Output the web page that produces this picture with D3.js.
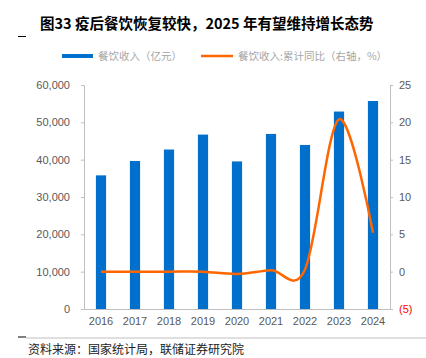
<!DOCTYPE html>
<html><head><meta charset="utf-8">
<script src="https://cdn.jsdelivr.net/npm/d3@7"></script>
<style>body{margin:0;background:#fff}svg{display:block}</style>
</head><body>
<svg id="c" width="426" height="358"></svg>
<script>
const years = ["2016","2017","2018","2019","2020","2021","2022","2023","2024"];
const revenue = [35799, 39644, 42716, 46721, 39527, 46895, 43941, 52890, 55718];
const yoy = [0.0, 0.0, 0.0, 0.0, -0.3, 0.2, 0.3, 20.4, 5.2];
const leftTicks = [0, 10000, 20000, 30000, 40000, 50000, 60000];
const rightTicks = [-5, 0, 5, 10, 15, 20, 25];

const svg = d3.select("#c");
const L = 84, R = 390, T = 85, B = 309;
const x = d3.scaleBand().domain(years).range([L, R]).paddingInner(0.7).paddingOuter(0.35);
const yL = d3.scaleLinear().domain([0, 60000]).range([B, T]);
const yR = d3.scaleLinear().domain([-5, 25]).range([B, T]);
const fmtL = d3.format(",");
const fmtR = v => v < 0 ? "(" + Math.abs(v) + ")" : String(v);

// title
svg.append("text").attr("x", 40).attr("y", 29).attr("font-family", "'Noto Sans CJK SC', sans-serif")
  .attr("font-size", 14.5).attr("font-weight", "bold").attr("fill", "#000")
  .text("图33 疫后餐饮恢复较快，2025 年有望维持增长态势");
svg.append("line").attr("x1", 18).attr("x2", 26).attr("y1", 36.5).attr("y2", 36.5).attr("stroke", "#000").attr("stroke-width", 1);

// legend
const lg = svg.append("g").attr("font-family", "'Noto Sans CJK SC', sans-serif").attr("font-size", 10.5).attr("fill", "#a6a6a6");
lg.append("line").attr("x1", 62).attr("x2", 93).attr("y1", 56).attr("y2", 56).attr("stroke", "#0070CC").attr("stroke-width", 4);
lg.append("text").attr("x", 98).attr("y", 60).text("餐饮收入（亿元）");
lg.append("line").attr("x1", 201).attr("x2", 233).attr("y1", 56).attr("y2", 56).attr("stroke", "#FF6600").attr("stroke-width", 2.5);
lg.append("text").attr("x", 238).attr("y", 60).text("餐饮收入:累计同比（右轴，%）");

// bars
svg.append("g").selectAll("rect").data(years).join("rect")
  .attr("x", d => x(d)).attr("width", x.bandwidth())
  .attr("y", (d, i) => yL(revenue[i])).attr("height", (d, i) => B - yL(revenue[i]))
  .attr("fill", "#0070CC");

// axes
const axisStyle = g => {
  g.selectAll("path").attr("stroke", "#bfbfbf");
  g.selectAll("line").attr("stroke", "#bfbfbf");
  g.selectAll("text").attr("fill", "#595959").attr("font-family", "'Liberation Sans', Arial, sans-serif").attr("font-size", 11);
};
svg.append("g").attr("transform", `translate(${L},0)`)
  .call(d3.axisLeft(yL).tickValues(leftTicks).tickFormat(fmtL).tickSize(3).tickSizeOuter(3).tickPadding(11))
  .call(axisStyle);
const ra = svg.append("g").attr("transform", `translate(${R},0)`)
  .call(d3.axisRight(yR).tickValues(rightTicks).tickFormat(fmtR).tickSize(3).tickSizeOuter(3).tickPadding(6))
  .call(axisStyle);
ra.selectAll(".tick text").filter(d => d < 0).attr("fill", "#FF0000");
svg.append("g").attr("transform", `translate(0,${B})`)
  .call(d3.axisBottom(x).tickSize(0).tickSizeOuter(0).tickPadding(8))
  .call(axisStyle);

// line
const line = d3.line().x((d, i) => x(years[i]) + x.bandwidth() / 2).y(d => yR(d)).curve(d3.curveCatmullRom.alpha(0));
svg.append("path").datum(yoy).attr("d", line).attr("fill", "none").attr("stroke", "#FF6600").attr("stroke-width", 2.5);

// footer
svg.append("line").attr("x1", 26).attr("x2", 426).attr("y1", 338).attr("y2", 338).attr("stroke", "#bfbfbf").attr("stroke-width", 1);
svg.append("line").attr("x1", 18).attr("x2", 26).attr("y1", 337).attr("y2", 337).attr("stroke", "#000").attr("stroke-width", 1);
svg.append("text").attr("x", 28).attr("y", 354).attr("font-family", "'Noto Sans CJK SC', sans-serif")
  .attr("font-size", 12).attr("fill", "#222").text("资料来源：国家统计局，联储证券研究院");
</script>
</body></html>
